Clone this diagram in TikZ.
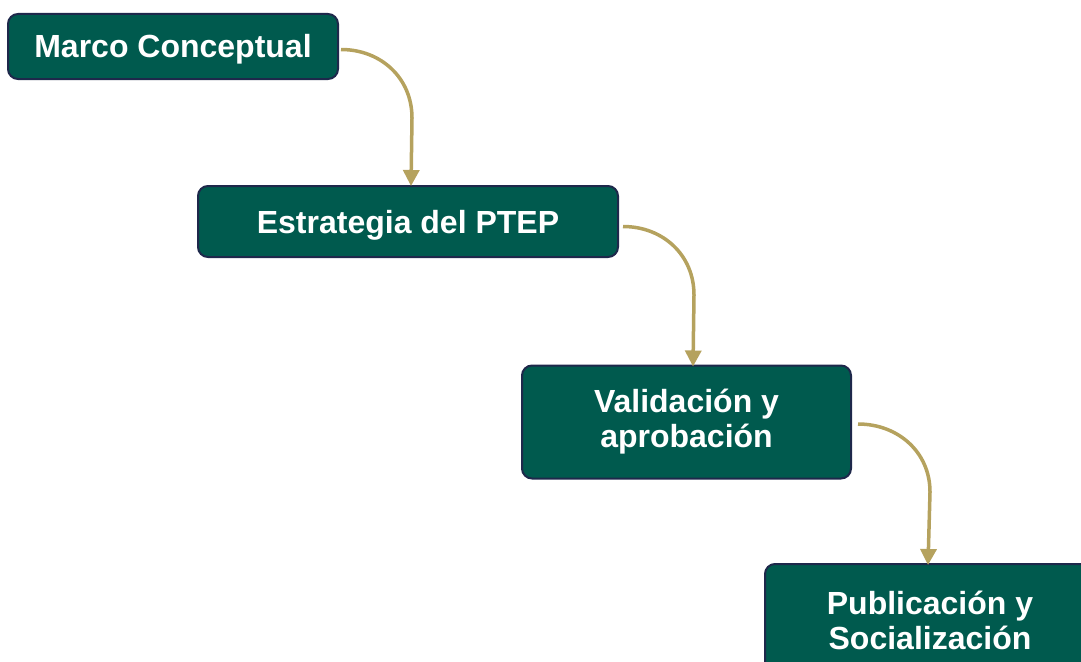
\documentclass[tikz,border=0pt]{standalone}
\usepackage{fontspec}
\setmainfont{Liberation Sans}
\usetikzlibrary{arrows.meta,calc}
\definecolor{boxgreen}{RGB}{0,90,78}
\definecolor{boxedge}{RGB}{30,40,75}
\definecolor{gold}{RGB}{181,162,94}
\tikzset{
  stepbox/.style={draw=boxedge, line width=2pt, fill=boxgreen, rounded corners=10pt,
    text=white, font=\fontsize{32}{35}\selectfont\bfseries, align=center,
    inner sep=0pt},
  oneline/.style={text height=23pt, text depth=0pt},
  conn/.style={draw=gold, line width=3.5pt, -{Triangle[length=16pt,width=16pt]}}
}
\begin{document}
\begin{tikzpicture}[x=1pt,y=-1pt]
\useasboundingbox (0,0) rectangle (1081,661);
\clip (0,0) rectangle (1081,661);
\node[stepbox, oneline, minimum width=330pt, minimum height=65pt] (b1) at (173,46.5) {Marco Conceptual};
\node[stepbox, oneline, minimum width=420pt, minimum height=71pt] (b2) at (408,221.5) {Estrategia del PTEP};
\node[stepbox, minimum width=329pt, minimum height=113pt] (b3) at (686.5,422) {Validación y\\aprobación};
\node[stepbox, minimum width=330pt, minimum height=113pt] (b4) at (930,620.5) {Publicación y\\Socialización};
\coordinate (s1) at ($(b1.east)+(2,3)$);
\coordinate (k1) at (412,118);
\coordinate (s2) at ($(b2.east)+(4,5)$);
\coordinate (k2) at (694,295);
\coordinate (s3) at ($(b3.east)+(6,2)$);
\coordinate (k3) at (930,492);
\draw[conn] (s1) .. controls +(40,0) and +(0,-40) .. (k1) -- ([yshift=-1pt]b2.north -| 411,0);
\draw[conn] (s2) .. controls +(40,0) and +(0,-40) .. (k2) -- ([yshift=-2pt]b3.north -| 693,0);
\draw[conn] (s3) .. controls +(40,0) and +(0,-40) .. (k3) -- ([yshift=-2pt]b4.north -| 928,0);
\end{tikzpicture}
\end{document}
